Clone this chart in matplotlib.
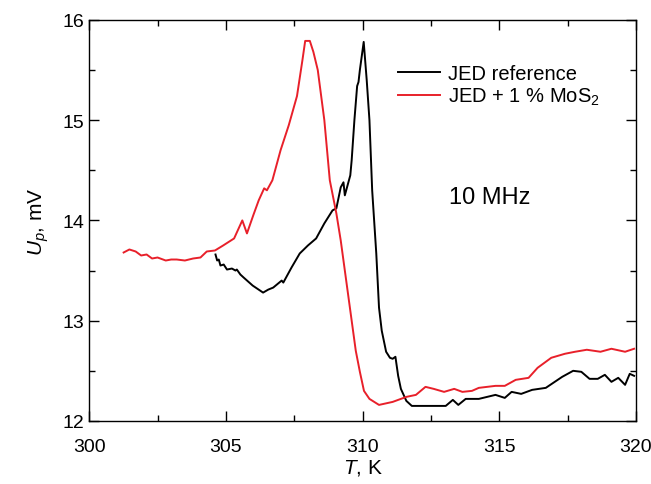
import matplotlib
matplotlib.use("Agg")
import matplotlib.pyplot as plt
from matplotlib.ticker import MultipleLocator

plt.rcParams['font.family'] = ['Liberation Sans', 'DejaVu Sans']
plt.rcParams['mathtext.fontset'] = 'custom'
plt.rcParams['mathtext.rm'] = 'Liberation Sans'
plt.rcParams['mathtext.it'] = 'Liberation Sans:italic'

ref_T = [304.62, 304.68, 304.74, 304.8, 304.92, 305.04, 305.22, 305.35, 305.4, 305.53, 305.65,
         305.98, 306.36, 306.55, 306.73, 307.04, 307.1, 307.4, 307.7, 308.0, 308.3, 308.6,
         308.9, 309.04, 309.2, 309.3, 309.35, 309.45, 309.55, 309.6, 309.7, 309.8, 309.85,
         309.9, 310.04, 310.15, 310.25, 310.35, 310.5, 310.6, 310.7, 310.86, 311.0, 311.1,
         311.2, 311.3, 311.4, 311.6, 311.8, 312.0, 312.5, 313.04, 313.3, 313.5, 313.77,
         314.25, 314.86, 315.2, 315.45, 315.8, 316.2, 316.7, 317.3, 317.7, 318.0, 318.3,
         318.6, 318.86, 319.1, 319.35, 319.6, 319.77, 319.93]
ref_U = [13.66, 13.60, 13.61, 13.55, 13.56, 13.51, 13.52, 13.50, 13.51, 13.46, 13.43,
         13.35, 13.28, 13.31, 13.33, 13.40, 13.38, 13.53, 13.67, 13.75, 13.82, 13.97,
         14.10, 14.12, 14.33, 14.38, 14.25, 14.35, 14.45, 14.60, 15.00, 15.34, 15.38,
         15.50, 15.78, 15.40, 15.00, 14.30, 13.67, 13.13, 12.90, 12.69, 12.63, 12.62,
         12.64, 12.45, 12.32, 12.20, 12.15, 12.15, 12.15, 12.15, 12.21, 12.16, 12.22,
         12.22, 12.26, 12.23, 12.29, 12.27, 12.31, 12.33, 12.44, 12.50, 12.49, 12.42,
         12.42, 12.46, 12.39, 12.43, 12.36, 12.47, 12.45]

mos_T = [301.26, 301.47, 301.7, 301.9, 302.1, 302.3, 302.5, 302.8, 303.0, 303.2, 303.5,
         303.8, 304.07, 304.3, 304.6, 304.9, 305.3, 305.6, 305.77, 306.0, 306.2, 306.4,
         306.5, 306.7, 307.0, 307.3, 307.6, 307.8, 307.9, 308.07, 308.2, 308.36, 308.6,
         308.8, 309.04, 309.2, 309.4, 309.6, 309.75, 309.9, 310.05, 310.25, 310.6, 311.1,
         311.6, 311.95, 312.3, 312.6, 312.98, 313.35, 313.65, 314.0, 314.25, 314.86, 315.2,
         315.6, 316.07, 316.4, 316.9, 317.4, 317.77, 318.2, 318.7, 319.1, 319.6, 319.93]
mos_U = [13.68, 13.71, 13.69, 13.65, 13.66, 13.62, 13.63, 13.60, 13.61, 13.61, 13.60,
         13.62, 13.63, 13.69, 13.70, 13.75, 13.82, 14.00, 13.87, 14.05, 14.20, 14.32,
         14.30, 14.40, 14.70, 14.95, 15.24, 15.60, 15.79, 15.79, 15.68, 15.50, 15.00,
         14.40, 14.07, 13.80, 13.40, 13.00, 12.70, 12.49, 12.30, 12.22, 12.16, 12.19,
         12.24, 12.26, 12.34, 12.32, 12.29, 12.32, 12.29, 12.30, 12.33, 12.35, 12.35,
         12.41, 12.43, 12.53, 12.63, 12.67, 12.69, 12.71, 12.69, 12.72, 12.69, 12.72]

fig = plt.figure(figsize=(6.51, 4.85), dpi=100)
ax = fig.add_axes([0.137, 0.130, 0.840, 0.827])

ax.plot(ref_T, ref_U, color='black', lw=1.4, label='JED reference')
ax.plot(mos_T, mos_U, color='#e8202a', lw=1.4, label='JED + 1 % MoS$_2$')

ax.set_xlim(300, 320)
ax.set_ylim(12, 16)
ax.xaxis.set_major_locator(MultipleLocator(5))
ax.xaxis.set_minor_locator(MultipleLocator(2.5))
ax.yaxis.set_major_locator(MultipleLocator(1))
ax.yaxis.set_minor_locator(MultipleLocator(0.5))
ax.tick_params(which='both', direction='in', top=True, right=True, labelsize=14, width=1.0)
ax.tick_params(which='major', length=7)
ax.tick_params(which='minor', length=4)
ax.tick_params(axis='x', which='major', pad=12)
for s in ax.spines.values():
    s.set_linewidth(1.0)

ax.set_xlabel('$T$, K', fontsize=15, labelpad=2)
ax.set_ylabel('$U_p$, mV', fontsize=15, labelpad=8)

ax.text(314.63, 14.23, '10 MHz', fontsize=17, ha='center', va='center')

ax.legend(loc='upper left', bbox_to_anchor=(0.565, 0.89), frameon=False, fontsize=14.5,
          borderpad=0, borderaxespad=0,
          handlelength=2.1, handletextpad=0.4, labelspacing=0.15)

fig.savefig('out.png', dpi=100)
